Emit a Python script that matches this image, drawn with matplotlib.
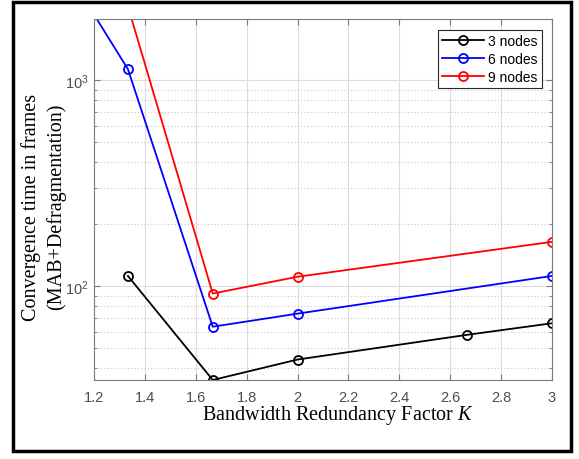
import matplotlib.pyplot as plt
from matplotlib.patches import Rectangle
from matplotlib.ticker import LogLocator, NullFormatter

# Bandwidth redundancy factor K
K_3 = [4 / 3, 5 / 3, 2.0, 8 / 3, 3.0]
K_6 = [1.0, 4 / 3, 5 / 3, 2.0, 3.0]
K_9 = [4 / 3, 5 / 3, 2.0, 3.0]

# Convergence time in frames (MAB+Defragmentation)
T_3 = [112, 35, 44, 58, 66]
T_6 = [5200, 1130, 63.5, 73.5, 112]
T_9 = [2280, 92, 111, 164]

X_TICKS = [1.2, 1.4, 1.6, 1.8, 2.0, 2.2, 2.4, 2.6, 2.8, 3.0]
X_TICKLABELS = ["1.2", "1.4", "1.6", "1.8", "2", "2.2", "2.4", "2.6", "2.8", "3"]


def plot_convergence(output_path="out.png"):
    plt.rcParams["font.family"] = ["Liberation Sans", "DejaVu Sans"]
    # sans digits for 10^n ticks, serif italic for the K in the label
    plt.rcParams["mathtext.fontset"] = "custom"
    plt.rcParams["mathtext.rm"] = "Liberation Sans"
    plt.rcParams["mathtext.it"] = "Liberation Serif:italic"

    fig = plt.figure(figsize=(5.79, 4.6), dpi=100)
    ax = fig.add_axes([94 / 579, 1 - 381 / 460, 458 / 579, 361 / 460])

    series = [
        (K_3, T_3, "#000000", "3 nodes"),
        (K_6, T_6, "#0000ff", "6 nodes"),
        (K_9, T_9, "#ff0000", "9 nodes"),
    ]
    for k, t, color, label in series:
        ax.plot(k, t, color=color, linewidth=1.3, marker="o", markersize=6.5,
                markerfacecolor="none", markeredgewidth=1.3, label=label)

    ax.set_yscale("log")
    ax.set_xlim(1.2, 3.0)
    ax.set_ylim(35, 1980)
    ax.set_xticks(X_TICKS)
    ax.set_xticklabels(X_TICKLABELS)
    ax.yaxis.set_major_locator(LogLocator(base=10, numticks=10))
    ax.yaxis.set_minor_locator(LogLocator(base=10, subs=range(2, 10), numticks=10))
    ax.yaxis.set_minor_formatter(NullFormatter())

    # matlab-like grid
    ax.grid(True, which="major", color="#dcdcdc", linewidth=0.8, linestyle="-")
    ax.grid(True, which="minor", axis="y", color="#c8c8c8", linewidth=0.8,
            linestyle=(0, (1, 2)))
    ax.set_axisbelow(True)

    for side in ["left", "bottom", "top", "right"]:
        ax.spines[side].set_color("#7a7a7a")
        ax.spines[side].set_linewidth(0.8)
    ax.tick_params(which="both", direction="in", top=True, right=True,
                   colors="#7a7a7a", labelcolor="#4d4d4d", labelsize=10.5)
    ax.tick_params(which="major", length=4)
    ax.tick_params(which="minor", length=2)
    ax.tick_params(axis="x", pad=7)
    ax.tick_params(axis="y", pad=4)

    # axis labels placed like the matlab export
    fig.text(338 / 579, 1 - 416 / 460, "Bandwidth Redundancy Factor $K$",
             fontsize=14.5, family="Liberation Serif", ha="center", va="center")
    fig.text(43.5 / 579, 1 - 207 / 460,
             "Convergence time in frames\n(MAB+Defragmentation)",
             fontsize=14.5, family="Liberation Serif", ha="center", va="center",
             rotation=90, linespacing=1.3, multialignment="center")

    leg = ax.legend(loc="upper right", bbox_to_anchor=(0.978, 0.970),
                    fontsize=10, handlelength=3.0, handletextpad=0.3,
                    borderpad=0.3, labelspacing=0.3, fancybox=False,
                    framealpha=1, borderaxespad=0)
    leg.get_frame().set_edgecolor("#262626")
    leg.get_frame().set_linewidth(0.8)

    # outer frame around the whole figure
    fig.patches.append(Rectangle((13 / 579, 1 - 452 / 460), 558 / 579, 449 / 460,
                                 transform=fig.transFigure, fill=False,
                                 edgecolor="black", linewidth=2.5))

    fig.savefig(output_path, dpi=100)
    plt.close(fig)


if __name__ == "__main__":
    plot_convergence("out.png")
